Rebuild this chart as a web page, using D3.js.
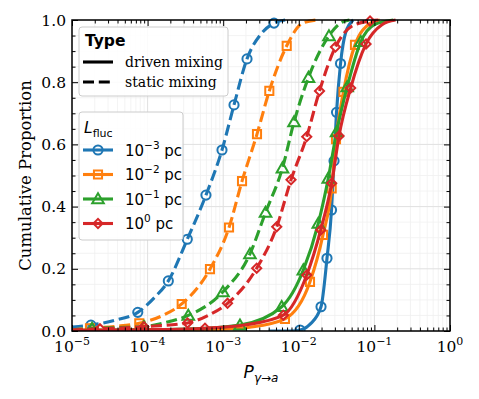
<!DOCTYPE html>
<html lang="en">
<head>
<meta charset="utf-8">
<script src="https://cdn.jsdelivr.net/npm/d3@7"></script>
<style>
  body { margin: 0; background: #fff; }
  .serif { font-family: "DejaVu Serif", serif; }
  .sans { font-family: "DejaVu Sans", sans-serif; }
  .axis path { display: none; }
  .axis line { stroke: #000; stroke-width: 1; }
</style>
</head>
<body>
<div id="chart"></div>
<script>
// each point: [log10 P, cumulative proportion, 1 = has marker]
var staticE3 = [[-5.0,0.013],[-4.75,0.019,1],[-4.42,0.035],[-4.13,0.060,1],[-3.92,0.105],[-3.726,0.161,1],[-3.475,0.295,1],
  [-3.228,0.437,1],[-3.016,0.582,1],[-2.857,0.727,1],[-2.685,0.875,1],[-2.50,0.955],[-2.328,0.990,1],[-2.18,1.0]];
var staticE2 = [[-5.0,0.004],[-4.762,0.009,1],[-4.42,0.015],[-4.110,0.025,1],[-3.80,0.050],[-3.549,0.087,1],[-3.175,0.199,1],
  [-2.923,0.333,1],[-2.751,0.482,1],[-2.553,0.633,1],[-2.39,0.772,1],[-2.160,0.917,1],[-1.95,0.99],[-1.77,1.0]];
var staticE1 = [[-5.0,0.003],[-4.735,0.008,1],[-4.40,0.011],[-4.048,0.014,1],[-3.75,0.028],[-3.462,0.050,1],[-3.003,0.126,1],
  [-2.646,0.248,1],[-2.44,0.381,1],[-2.216,0.524,1],[-2.063,0.672,1],[-1.872,0.815,1],[-1.601,0.949,1],[-1.45,0.99],[-1.33,1.0]];
var staticE0 = [[-5.0,0.003],[-4.630,0.007,1],[-4.05,0.014,1],[-3.472,0.026,1],[-3.20,0.050],[-2.943,0.089,1],[-2.557,0.202,1],
  [-2.292,0.335,1],[-2.103,0.486,1],[-1.895,0.625,1],[-1.726,0.772,1],[-1.515,0.913,1],[-1.30,0.98],[-1.058,0.997,1],[-0.95,1.0]];

var drivenE3 = [[-2.40,0.0],[-2.10,0.0],[-1.984,0.003,1],[-1.85,0.022],[-1.706,0.078,1],[-1.627,0.234,1],[-1.567,0.389,1],
  [-1.534,0.547,1],[-1.501,0.703,1],[-1.448,0.860,1],[-1.38,0.96],[-1.28,1.0]];
var drivenE2 = [[-5.0,0.002],[-4.0,0.003],[-3.0,0.006],[-2.65,0.012],[-2.183,0.039,1],[-1.852,0.158,1],[-1.680,0.309,1],
  [-1.565,0.458,1],[-1.508,0.617,1],[-1.409,0.769,1],[-1.257,0.920,1],[-1.05,0.99],[-0.93,1.0]];
var drivenE1 = [[-5.0,0.002],[-3.5,0.006],[-2.778,0.019,1],[-2.226,0.078,1],[-1.940,0.196,1],[-1.742,0.346,1],[-1.610,0.491,1],
  [-1.50,0.640,1],[-1.36,0.785,1],[-1.18,0.930,1],[-1.0,0.985],[-0.75,1.0]];
var drivenE0 = [[-5.0,0.002],[-4.0,0.004],[-3.241,0.009,1],[-2.70,0.020],[-2.205,0.051,1],[-1.895,0.180,1],[-1.710,0.325,1],
  [-1.565,0.475,1],[-1.468,0.627,1],[-1.314,0.781,1],[-1.111,0.923,1],[-0.90,0.985],[-0.72,1.0]];

var lflucLabels = ["\u22123", "\u22122", "\u22121", "0"];
var colors = ["#1f77b4", "#ff7f0e", "#2ca02c", "#d62728"];
var symbols = ["circle", "square", "triangle", "diamond"];
var drivenSeries = [drivenE3, drivenE2, drivenE1, drivenE0];
var staticSeries = [staticE3, staticE2, staticE1, staticE0];
var xTickExps = [-5, -4, -3, -2, -1, 0];
var yTicks = [0, 0.2, 0.4, 0.6, 0.8, 1.0];

var width = 479, height = 399;
var mL = 72, mR = 450, mT = 20, mB = 331;
var lw = 3.1;
var dash = "11,4.8";

var svg = d3.select("#chart").append("svg")
  .attr("width", width).attr("height", height);

var x = d3.scaleLog().domain([1e-5, 1]).range([mL, mR]);
var y = d3.scaleLinear().domain([0, 1]).range([mB, mT]);

var xMajor = xTickExps.map(function(e){ return Math.pow(10, e); });
var xMinor = [];
xTickExps.slice(0, -1).forEach(function(e){
  for (var k = 2; k < 10; k++) xMinor.push(k * Math.pow(10, e));
});
var yMinor = d3.range(0, 1.0001, 0.05).filter(function(v){ return Math.abs(v*5 - Math.round(v*5)) > 1e-6; });

// grid
var grid = svg.append("g");
grid.selectAll(".gxm").data(xMinor).enter().append("line")
  .attr("x1", d => x(d)).attr("x2", d => x(d)).attr("y1", mT).attr("y2", mB)
  .attr("stroke", "#f0f0f0").attr("stroke-width", 0.8);
grid.selectAll(".gym").data(yMinor).enter().append("line")
  .attr("x1", mL).attr("x2", mR).attr("y1", d => y(d)).attr("y2", d => y(d))
  .attr("stroke", "#f0f0f0").attr("stroke-width", 0.8);
grid.selectAll(".gx").data(xMajor).enter().append("line")
  .attr("x1", d => x(d)).attr("x2", d => x(d)).attr("y1", mT).attr("y2", mB)
  .attr("stroke", "#e0e0e0").attr("stroke-width", 1);
grid.selectAll(".gy").data(yTicks).enter().append("line")
  .attr("x1", mL).attr("x2", mR).attr("y1", d => y(d)).attr("y2", d => y(d))
  .attr("stroke", "#e0e0e0").attr("stroke-width", 1);

// curves
var line = d3.line()
  .x(d => x(Math.pow(10, d[0])))
  .y(d => y(d[1]))
  .curve(d3.curveMonotoneX);

// diamond is drawn as a square turned 45 degrees, like matplotlib's "D"
var symMap = { circle: d3.symbolCircle, square: d3.symbolSquare, triangle: d3.symbolTriangle, diamond: d3.symbolSquare };
var symSize = { circle: 66, square: 66, triangle: 58, diamond: 42 };

function marker(g, kind, cx, cy, color) {
  var extra = kind === "triangle" ? " translate(0,1)" : (kind === "diamond" ? " rotate(45)" : "");
  g.append("path")
    .attr("d", d3.symbol().type(symMap[kind]).size(symSize[kind])())
    .attr("transform", "translate(" + cx + "," + cy + ")" + extra)
    .attr("fill", "none").attr("stroke", color).attr("stroke-width", 2);
}

var plot = svg.append("g");
plot.append("clipPath").attr("id", "clip").append("rect")
  .attr("x", mL).attr("y", mT - 6).attr("width", mR - mL).attr("height", mB - mT + 6);
var curves = plot.append("g").attr("clip-path", "url(#clip)");

[0, 1, 2, 3].forEach(function(i){
  [[drivenSeries[i], null], [staticSeries[i], dash]].forEach(function(s){
    var data = s[0];
    curves.append("path").datum(data)
      .attr("d", line)
      .attr("fill", "none")
      .attr("stroke", colors[i])
      .attr("stroke-width", lw)
      .attr("stroke-dasharray", s[1]);
    data.filter(d => d[2]).forEach(function(d){
      marker(curves, symbols[i], x(Math.pow(10, d[0])), y(d[1]), colors[i]);
    });
  });
});

// axes, inward ticks on all four sides
function addAxis(axis, tx, ty) {
  svg.append("g").attr("class", "axis").attr("transform", "translate(" + tx + "," + ty + ")").call(axis);
}
addAxis(d3.axisBottom(x).tickValues(xMajor).tickSize(-6).tickFormat(""), 0, mB);
addAxis(d3.axisBottom(x).tickValues(xMinor).tickSize(-3.5).tickFormat(""), 0, mB);
addAxis(d3.axisTop(x).tickValues(xMajor).tickSize(-6).tickFormat(""), 0, mT);
addAxis(d3.axisTop(x).tickValues(xMinor).tickSize(-3.5).tickFormat(""), 0, mT);
addAxis(d3.axisLeft(y).tickValues(yTicks).tickSize(-6).tickFormat(""), mL, 0);
addAxis(d3.axisLeft(y).tickValues(yMinor).tickSize(-3.5).tickFormat(""), mL, 0);
addAxis(d3.axisRight(y).tickValues(yTicks).tickSize(-6).tickFormat(""), mR, 0);
addAxis(d3.axisRight(y).tickValues(yMinor).tickSize(-3.5).tickFormat(""), mR, 0);

svg.append("rect").attr("x", mL).attr("y", mT).attr("width", mR - mL).attr("height", mB - mT)
  .attr("fill", "none").attr("stroke", "#000").attr("stroke-width", 1.5);

// tick labels
xTickExps.forEach(function(e){
  var t = svg.append("text").attr("class", "serif")
    .attr("x", x(Math.pow(10, e))).attr("y", 352)
    .attr("text-anchor", "middle").attr("font-size", 15.5);
  t.append("tspan").text("10");
  t.append("tspan").attr("dy", -7).attr("font-size", 11).text(e === 0 ? "0" : "\u2212" + (-e));
});
yTicks.forEach(function(v){
  svg.append("text").attr("class", "serif")
    .attr("x", 66).attr("y", y(v) + 5.5)
    .attr("text-anchor", "end").attr("font-size", 15.5)
    .text(v.toFixed(1));
});

// axis labels
svg.append("text").attr("class", "serif")
  .attr("transform", "translate(31," + ((mT + mB) / 2) + ") rotate(-90)")
  .attr("text-anchor", "middle").attr("font-size", 16.5)
  .text("Cumulative Proportion");

var xl = svg.append("text").attr("class", "sans")
  .attr("x", (mL + mR) / 2).attr("y", 378)
  .attr("text-anchor", "middle").attr("font-style", "italic").attr("font-size", 17);
xl.append("tspan").text("P");
xl.append("tspan").attr("dy", 4).attr("font-size", 12).text("\u03b3\u2192a");

// legend: Type
var lg1 = svg.append("g");
lg1.append("rect").attr("x", 79).attr("y", 27).attr("width", 149).attr("height", 69).attr("rx", 3)
  .attr("fill", "#fff").attr("fill-opacity", 0.85).attr("stroke", "#cccccc").attr("stroke-width", 1);
lg1.append("text").attr("class", "sans").attr("x", 85).attr("y", 46)
  .attr("font-weight", "bold").attr("font-size", 15.5).text("Type");
[["driven mixing", null, 62], ["static mixing", dash, 82]].forEach(function(r){
  lg1.append("line").attr("x1", 83).attr("x2", 113).attr("y1", r[2]).attr("y2", r[2])
    .attr("stroke", "#000").attr("stroke-width", lw).attr("stroke-dasharray", r[1]);
  lg1.append("text").attr("class", "serif").attr("x", 125).attr("y", r[2] + 4.5)
    .attr("font-size", 14).text(r[0]);
});

// legend: L_fluc
var lg2 = svg.append("g");
lg2.append("rect").attr("x", 79).attr("y", 112).attr("width", 104).attr("height", 128).attr("rx", 3)
  .attr("fill", "#fff").attr("fill-opacity", 0.85).attr("stroke", "#cccccc").attr("stroke-width", 1);
var lt = lg2.append("text").attr("class", "sans").attr("x", 84).attr("y", 133).attr("font-size", 15.5);
lt.append("tspan").attr("font-style", "italic").text("L");
lt.append("tspan").attr("dy", 4).attr("font-size", 11).text("fluc");

lflucLabels.forEach(function(lab, i){
  var ey = 150 + i * 24.5;
  lg2.append("line").attr("x1", 83).attr("x2", 113).attr("y1", ey).attr("y2", ey)
    .attr("stroke", colors[i]).attr("stroke-width", lw);
  marker(lg2, symbols[i], 98, ey, colors[i]);
  var t = lg2.append("text").attr("class", "sans").attr("x", 125).attr("y", ey + 5.5).attr("font-size", 15);
  t.append("tspan").text("10");
  t.append("tspan").attr("dy", -7).attr("font-size", 10.5).text(lab);
  t.append("tspan").attr("dy", 7).text(" pc");
});
</script>
</body>
</html>
